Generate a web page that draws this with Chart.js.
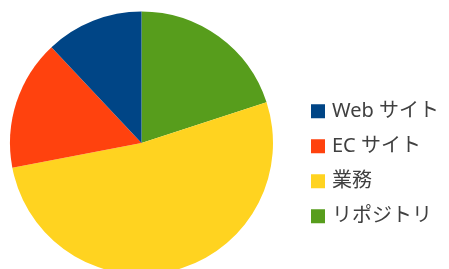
<!DOCTYPE html>
<html>
<head>
<meta charset="utf-8">
<script src="https://cdn.jsdelivr.net/npm/chart.js@4.4.1/dist/chart.umd.min.js"></script>
<style>
  html, body { margin: 0; padding: 0; background: #ffffff; overflow: hidden; width: 449px; height: 269px; }
  #wrap { position: absolute; left: -16px; top: 0; width: 465px; height: 269px; }
</style>
</head>
<body>
<div id="wrap"><canvas id="c" width="465" height="269"></canvas></div>
<script>
// Categories in drawing order (clockwise from 12 o'clock)
const categories = ['リポジトリ', '業務', 'EC サイト', 'Web サイト'];
const values = [20, 52, 16, 12];
const colors = ['#579D1C', '#FFD320', '#FF420E', '#004586'];

const LEGEND_WIDTH = 150;

// keep the legend box at a fixed width so the pie and legend sit where they should
const fixLegendWidth = {
  id: 'fixLegendWidth',
  beforeLayout(chart) {
    const lg = chart.legend;
    if (lg && !lg._fixed) {
      const orig = lg.fit.bind(lg);
      lg.fit = function () { orig(); this.width = LEGEND_WIDTH; };
      lg._fixed = true;
    }
  }
};

const ctx = document.getElementById('c').getContext('2d');
new Chart(ctx, {
  type: 'pie',
  data: {
    labels: categories,
    datasets: [{
      data: values,
      backgroundColor: colors,
      borderWidth: 0,
      radius: 131.5,
      clip: false
    }]
  },
  plugins: [fixLegendWidth],
  options: {
    responsive: false,
    animation: false,
    devicePixelRatio: 1,
    layout: { padding: { top: 17, bottom: 0, left: 0, right: 0 } },
    plugins: {
      tooltip: { enabled: false },
      legend: {
        position: 'right',
        reverse: true,
        title: { display: true, text: ' ', font: { size: 10 }, padding: { top: 29.6, bottom: 0 } },
        labels: {
          boxWidth: 8,
          boxHeight: 8,
          padding: 15,
          color: '#404040',
          font: { family: '"Noto Sans", "Noto Sans CJK JP", sans-serif', size: 20 },
          generateLabels: function(chart) {
            const items = Chart.overrides.pie.plugins.legend.labels.generateLabels(chart);
            items.forEach(it => {
              it.strokeStyle = it.fillStyle;
              it.lineWidth = 6;
              it.lineJoin = 'miter';
            });
            return items;
          }
        }
      }
    }
  }
});
</script>
</body>
</html>
